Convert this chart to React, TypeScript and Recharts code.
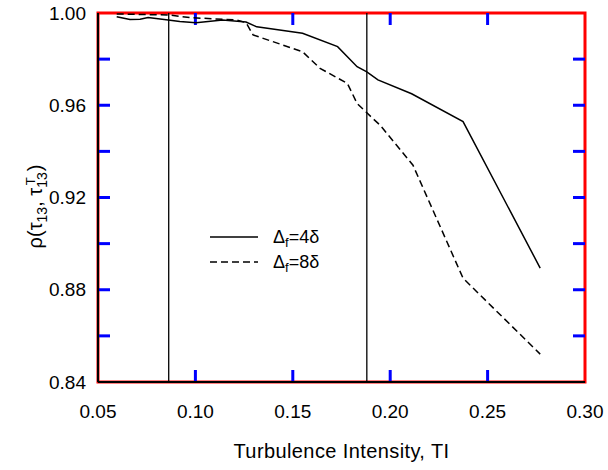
import React from 'react';
import { LineChart, Line, XAxis, YAxis, ReferenceLine, ReferenceArea, Legend } from 'recharts';

// Series: Δf = 4δ (solid)
const tiSolid = [0.0596, 0.0664, 0.0716, 0.0757, 0.086, 0.092, 0.1003, 0.114, 0.126, 0.1315, 0.155, 0.173, 0.183, 0.188, 0.1937, 0.211, 0.2374, 0.277];
const rhoSolid = [0.9984, 0.9972, 0.9973, 0.998, 0.997, 0.9963, 0.9958, 0.997, 0.9961, 0.994, 0.9912, 0.9854, 0.9767, 0.9745, 0.971, 0.965, 0.9529, 0.8894];

// Series: Δf = 8δ (dashed)
const tiDashed = [0.0596, 0.087, 0.097, 0.121, 0.126, 0.1296, 0.155, 0.164, 0.178, 0.183, 0.191, 0.1948, 0.2117, 0.2374, 0.277];
const rhoDashed = [0.9996, 0.9991, 0.998, 0.997, 0.9958, 0.9905, 0.9832, 0.976, 0.9695, 0.9608, 0.9543, 0.9514, 0.934, 0.885, 0.8521];

const seriesNames = ['4δ', '8δ'];
const seriesDash = ['', '7 4'];

const xTicks = [0.05, 0.1, 0.15, 0.2, 0.25, 0.3];
const yTicks = [0.84, 0.86, 0.88, 0.9, 0.92, 0.94, 0.96, 0.98, 1.0];
const yLabelTicks = [0.84, 0.88, 0.92, 0.96, 1.0];
const verticalMarkers = [0.0863, 0.188];

const solidData = tiSolid.map((ti, i) => ({ ti, rho: rhoSolid[i] }));
const dashedData = tiDashed.map((ti, i) => ({ ti, rho: rhoDashed[i] }));

const FONT = '"Liberation Sans", Arial, Helvetica, sans-serif';
const X_DOMAIN: [number, number] = [0.05, 0.3];
const Y_DOMAIN: [number, number] = [0.84, 1.0];
const TICK_LEN = 12;

const innerXTicks = xTicks.filter((v) => v > X_DOMAIN[0] + 1e-9 && v < X_DOMAIN[1] - 1e-9);
const innerYTicks = yTicks.filter((v) => v > Y_DOMAIN[0] + 1e-9 && v < Y_DOMAIN[1] - 1e-9);

const fmtX = (v: number) => Number(v).toFixed(2);
const fmtY = (v: number) => (yLabelTicks.some((t) => Math.abs(t - v) < 1e-6) ? Number(v).toFixed(2) : '');

const tickText = { fill: '#000', fontSize: 19, fontFamily: FONT };

const xStub = (p: any) => {
  const x = p.x1;
  const top = Math.min(p.y1, p.y2);
  const bottom = Math.max(p.y1, p.y2);
  return (
    <g>
      <line x1={x} x2={x} y1={bottom} y2={bottom - TICK_LEN} stroke="#00f" strokeWidth={3} />
      <line x1={x} x2={x} y1={top} y2={top + TICK_LEN} stroke="#00f" strokeWidth={3} />
    </g>
  );
};

const yStub = (p: any) => {
  const y = p.y1;
  const left = Math.min(p.x1, p.x2);
  const right = Math.max(p.x1, p.x2);
  return (
    <g>
      <line x1={left} x2={left + TICK_LEN} y1={y} y2={y} stroke="#00f" strokeWidth={3} />
      <line x1={right} x2={right - TICK_LEN} y1={y} y2={y} stroke="#00f" strokeWidth={3} />
    </g>
  );
};

const YLabel = (props: any) => {
  const vb = props.viewBox || { x: 0, y: 13, width: 98, height: 369 };
  const cx = 42;
  const cy = vb.y + vb.height / 2 + 9;
  return (
    <text x={cx} y={cy} transform={`rotate(-90, ${cx}, ${cy})`} textAnchor="middle" fontFamily={FONT} fontSize={20} fill="#000">
      <tspan>ρ(τ</tspan>
      <tspan fontSize={14} dy={5}>13</tspan>
      <tspan dy={-5}>, τ</tspan>
      <tspan fontSize={14} dy={5}>13</tspan>
      <tspan fontSize={13} dx={-13} dy={-12}>T</tspan>
      <tspan dx={6} dy={7}>)</tspan>
    </text>
  );
};

const renderLegend = (props: any) => {
  const payload = props.payload || [];
  return (
    <svg width={140} height={52} style={{ display: 'block' }}>
      {payload.map((e: any, i: number) => {
        const y = 13 + 25 * i;
        const dash = seriesDash[i] || undefined;
        return (
          <g key={i}>
            <line x1={5} x2={53} y1={y} y2={y} stroke="#000" strokeWidth={1.5} strokeDasharray={dash} />
            <text x={68} y={y + 6} fontSize={18} fontFamily={FONT} fill="#000">
              Δ
              <tspan fontSize={13} dy={4}>f</tspan>
              <tspan dy={-4}>={e.value}</tspan>
            </text>
          </g>
        );
      })}
    </svg>
  );
};

export default function App() {
  return (
    <div style={{ position: 'absolute', left: 0, top: 0, background: '#fff' }}>
      <LineChart width={608} height={470} margin={{ top: 13, right: 23, bottom: 0, left: 0 }}>
        <XAxis
          dataKey="ti"
          type="number"
          domain={X_DOMAIN}
          ticks={xTicks}
          interval={0}
          allowDataOverflow
          height={88}
          tickSize={0}
          tickLine={false}
          tickMargin={23}
          tickFormatter={fmtX}
          stroke="#000"
          strokeWidth={2}
          tick={tickText}
          label={{
            value: 'Turbulence Intensity, TI',
            position: 'insideBottom',
            offset: 12,
            fill: '#000',
            fontSize: 20,
            fontFamily: FONT,
            style: { letterSpacing: '0.4px' },
          }}
        />
        <YAxis
          type="number"
          domain={Y_DOMAIN}
          ticks={yTicks}
          interval={0}
          allowDataOverflow
          width={98}
          tickSize={0}
          tickLine={false}
          tickMargin={12}
          tickFormatter={fmtY}
          stroke="#000"
          strokeWidth={2}
          tick={tickText}
          label={<YLabel />}
        />
        <ReferenceArea
          x1={X_DOMAIN[0]}
          x2={X_DOMAIN[1]}
          y1={Y_DOMAIN[0]}
          y2={Y_DOMAIN[1]}
          fill="none"
          fillOpacity={0}
          stroke="#f00"
          strokeWidth={3}
          ifOverflow="visible"
        />
        {innerXTicks.map((v) => (
          <ReferenceLine key={`xt${v}`} x={v} stroke="none" shape={xStub} ifOverflow="visible" />
        ))}
        {innerYTicks.map((v) => (
          <ReferenceLine key={`yt${v}`} y={v} stroke="none" shape={yStub} ifOverflow="visible" />
        ))}
        {verticalMarkers.map((v) => (
          <ReferenceLine key={`vm${v}`} x={v} stroke="#000" strokeWidth={1.3} />
        ))}
        <Line data={solidData} dataKey="rho" name={seriesNames[0]} type="linear" stroke="#000" strokeWidth={1.5} dot={false} isAnimationActive={false} />
        <Line data={dashedData} dataKey="rho" name={seriesNames[1]} type="linear" stroke="#000" strokeWidth={1.5} strokeDasharray={seriesDash[1]} dot={false} isAnimationActive={false} />
        <Legend
          layout="vertical"
          align="center"
          verticalAlign="middle"
          content={renderLegend}
          wrapperStyle={{ position: 'absolute', left: 205, top: 224, width: 140, height: 52 }}
        />
      </LineChart>
    </div>
  );
}
